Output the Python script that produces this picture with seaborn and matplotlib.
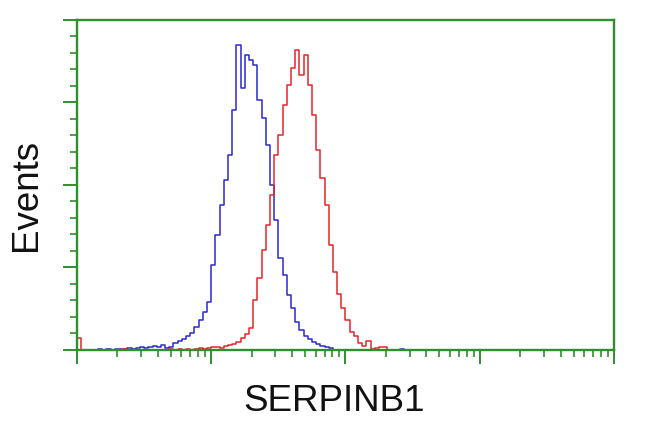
import matplotlib
matplotlib.use("Agg")
import matplotlib.pyplot as plt
import numpy as np
import seaborn as sns
from matplotlib.ticker import MultipleLocator, LogLocator, NullFormatter

# Flow histogram, 128 log channels over 4 decades; counts
N_CHANNELS = 128
N_DECADES = 4

blue_counts = [
    0, 0, 0, 0, 0, 1, 0, 1, 0, 1,
    1, 1, 2, 1, 2, 3, 2, 3, 4, 3,
    5, 2, 3, 7, 9, 11, 14, 17, 23, 30,
    38, 48, 85, 115, 145, 170, 195, 240, 305, 262,
    295, 290, 285, 250, 232, 205, 165, 130, 92, 75,
    55, 42, 28, 20, 14, 11, 8, 6, 4, 3,
    2, 0, 0, 0, 0, 0, 0, 0, 0, 0,
    0, 0, 0, 0, 0, 0, 0, 1, 0, 0,
]
red_counts = [
    12, 0, 0, 0, 0, 0, 0, 0, 0, 0,
    0, 1, 0, 0, 0, 0, 0, 0, 0, 0,
    0, 0, 1, 0, 1, 0, 1, 0, 1, 2,
    1, 2, 3, 3, 2, 4, 5, 6, 8, 12,
    16, 22, 50, 72, 100, 125, 155, 195, 215, 245,
    265, 282, 300, 275, 295, 265, 235, 200, 172, 145,
    105, 78, 56, 42, 30, 18, 14, 7, 4, 9,
    1, 2, 3, 3, 0, 0, 0, 0, 0, 0,
]
blue_counts += [0] * (N_CHANNELS - len(blue_counts))
red_counts += [0] * (N_CHANNELS - len(red_counts))

x_label = "SERPINB1"
y_label = "Events"

GREEN = "#2f8f2f"
BLUE = "#2a2ad0"
RED = "#e4262a"

edges = np.logspace(0, N_DECADES, N_CHANNELS + 1)
centers = np.sqrt(edges[:-1] * edges[1:])

sns.set_style("white")
plt.rcParams["font.family"] = ["Liberation Sans", "DejaVu Sans"]

fig = plt.figure(figsize=(6.5, 4.32), dpi=100)
ax = fig.add_axes([0.1185, 0.19, 0.826, 0.7637])

for counts, color in [(blue_counts, BLUE), (red_counts, RED)]:
    sns.histplot(x=centers, weights=counts, bins=N_CHANNELS, binrange=(0, N_DECADES),
                 log_scale=True, element="step", fill=False, color=color,
                 linewidth=1.1, ax=ax)

ax.set_xlim(1, 10 ** N_DECADES)
ax.set_ylim(0, 330)

ax.xaxis.set_major_locator(LogLocator(base=10, numticks=10))
ax.xaxis.set_minor_locator(LogLocator(base=10, subs=np.arange(2, 10), numticks=100))
ax.xaxis.set_major_formatter(NullFormatter())
ax.xaxis.set_minor_formatter(NullFormatter())
ax.yaxis.set_major_locator(MultipleLocator(82.5))
ax.yaxis.set_minor_locator(MultipleLocator(16.5))
ax.yaxis.set_major_formatter(NullFormatter())

for side in ["left", "right", "top", "bottom"]:
    ax.spines[side].set_visible(True)
    ax.spines[side].set_color(GREEN)
    ax.spines[side].set_linewidth(1.7)

ax.tick_params(axis="both", which="both", direction="out", color=GREEN,
               top=False, right=False, left=True, bottom=True)
ax.tick_params(axis="both", which="major", length=10, width=1.4)
ax.tick_params(axis="both", which="minor", length=5, width=1.2)

ax.set_xlabel(x_label, fontsize=26.5, color="#111111")
ax.set_ylabel(y_label, fontsize=26.5, color="#111111")
ax.xaxis.set_label_coords(0.479, -0.103)
ax.yaxis.set_label_coords(-0.062, 0.47)

fig.savefig("out.png", dpi=100, facecolor="white")
